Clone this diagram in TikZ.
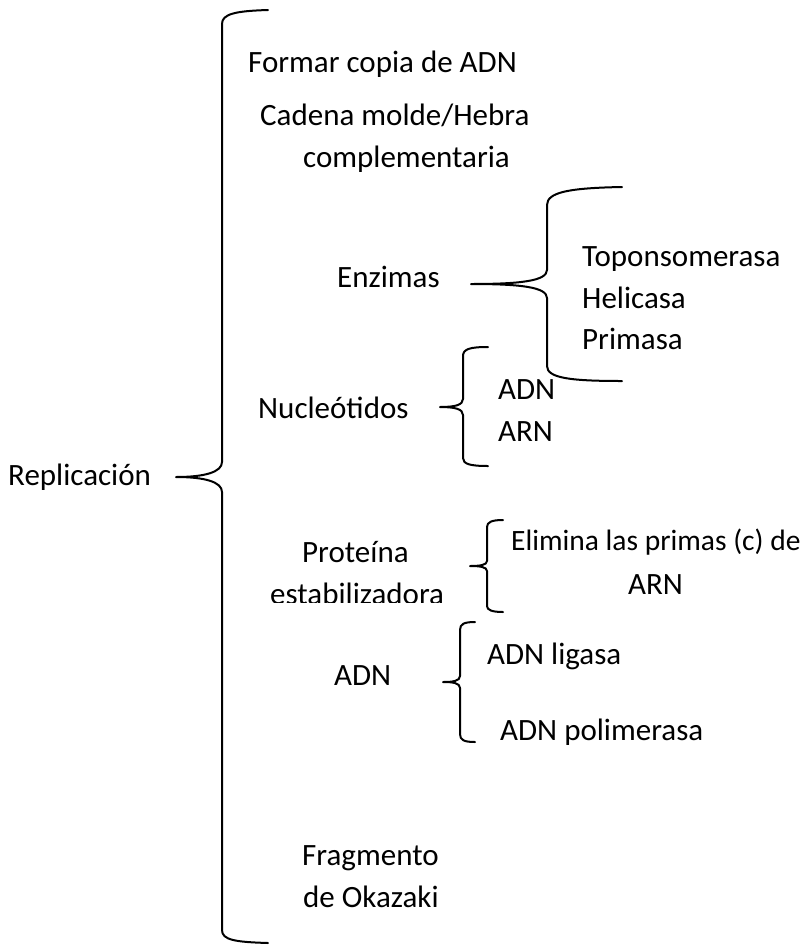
\documentclass[tikz,border=0pt]{standalone}
\usepackage{fontspec}
\setmainfont{Carlito}
\tikzset{
  lbl/.style={anchor=base west, inner sep=0pt, font=\fontsize{31}{37}\selectfont},
  brace/.style={line width=2pt, line cap=round, line join=round}
}
\begin{document}
\begin{tikzpicture}[x=1pt,y=-1pt]
\useasboundingbox[fill=white] (0,0) rectangle (804,946);
% braces
\draw[brace] (268,10) .. controls (235,11) and (222,14) .. (222,24) -- (222,462) .. controls (222,472) and (205,477) .. (176,477) .. controls (205,477) and (222,482) .. (222,492) -- (222,930) .. controls (222,940) and (235,942) .. (268,943);
\draw[brace] (622,187) .. controls (570,188) and (547,192) .. (547,205) -- (547,270) .. controls (547,281) and (520,284) .. (471,284) .. controls (520,284) and (547,287) .. (547,298) -- (547,366) .. controls (547,378) and (570,381) .. (622,381);
\draw[brace] (488,347) .. controls (470,347) and (463,349) .. (463,356) -- (463,399) .. controls (463,405) and (455,407) .. (440,407) .. controls (455,407) and (463,409) .. (463,415) -- (463,458) .. controls (463,464) and (470,466) .. (488,466);
\draw[brace] (503,520) .. controls (492,520) and (487,522) .. (487,527) -- (487,561) .. controls (487,565) and (480,566) .. (470,566) .. controls (480,566) and (487,567) .. (487,571) -- (487,606) .. controls (487,610) and (492,612) .. (503,612);
\draw[brace] (475,622) .. controls (464,622) and (460,624) .. (460,630) -- (460,676) .. controls (460,681) and (453,682) .. (443,682) .. controls (453,682) and (460,683) .. (460,688) -- (460,734) .. controls (460,740) and (464,742) .. (475,742);
% labels
\node[lbl] (rep) at (8,485) {Replicación};
\node[lbl] (formar) at (248,72) {Formar copia de ADN};
\node[lbl] (cad1) at (260,125) {Cadena molde/Hebra};
\node[lbl] (cad2) at (303,167) {complementaria};
\node[lbl] (enz) at (337,287) {Enzimas};
\node[lbl] (topo) at (582,266) {Toponsomerasa};
\node[lbl] (heli) at (582,308) {Helicasa};
\node[lbl] (prim) at (582,349) {Primasa};
\node[lbl] (nuc) at (258,418) {Nucleótidos};
\node[lbl] (nadn) at (498,399) {ADN};
\node[lbl] (narn) at (498,441) {ARN};
\node[lbl] (prot1) at (302,562) {Proteína};
\begin{scope}
\clip (200,570) rectangle (480,602);
\node[lbl] (prot2) at (270,604) {estabilizadora};
\end{scope}
\node[lbl, font=\fontsize{29.5}{36}\selectfont] (elim1) at (511,550) {Elimina las primas (c) de};
\node[lbl] (elim2) at (628,594) {ARN};
\node[lbl] (lig) at (487,664) {ADN ligasa};
\node[lbl] (adn) at (334,685) {ADN};
\node[lbl] (pol) at (500,740) {ADN polimerasa};
\node[lbl] (frag1) at (302,865) {Fragmento};
\node[lbl] (frag2) at (303,907) {de Okazaki};
\end{tikzpicture}
\end{document}
